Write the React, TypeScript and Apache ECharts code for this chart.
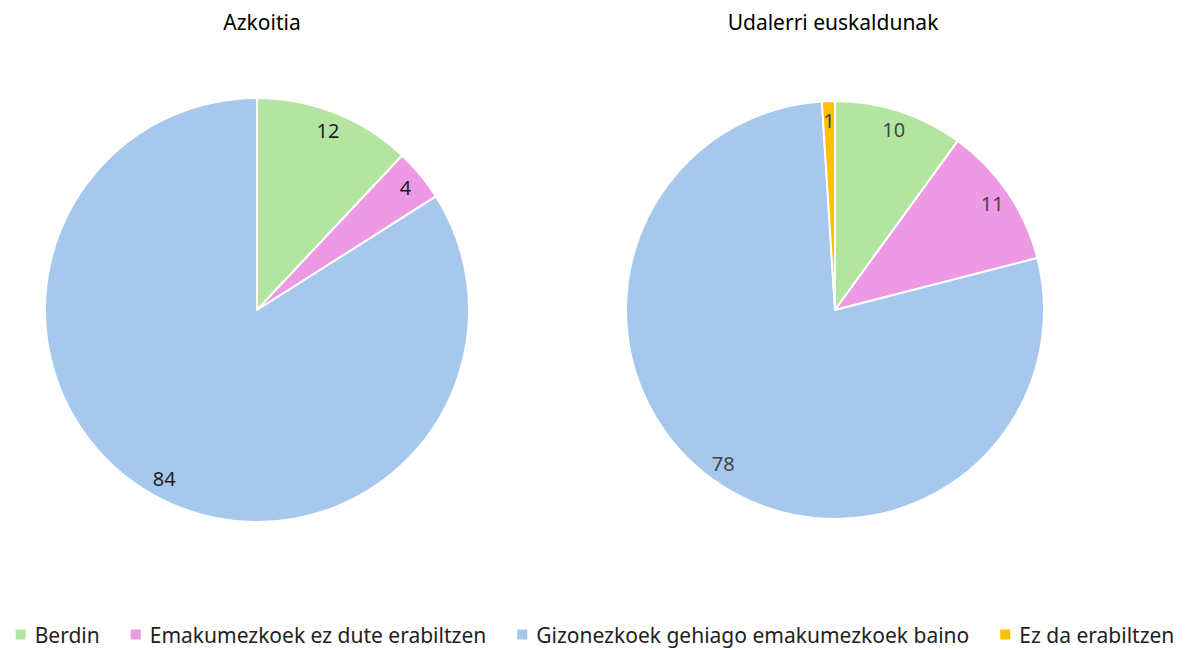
import React, { useEffect, useRef } from "react";
import * as echarts from "echarts";

const categories = ["Berdin", "Emakumezkoek ez dute erabiltzen", "Gizonezkoek gehiago emakumezkoek baino", "Ez da erabiltzen"];
const colors = ["#b3e5a1", "#ee99e3", "#a6c8ec", "#ffc000"];
const titles = ["Azkoitia", "Udalerri euskaldunak"];
const azkoitiaValues = [12, 4, 84, 0];
const udalerriValues = [10, 11, 78, 1];

const FONT = "'Noto Sans', 'Open Sans', sans-serif";

function buildData(values: number[]) {
  return categories
    .map((name, i) => ({ name, value: values[i], itemStyle: { color: colors[i] } }))
    .filter((d) => d.value > 0);
}

export default function App() {
  const ref = useRef<HTMLDivElement>(null);
  useEffect(() => {
    document.body.style.margin = "0";
    const chart = echarts.init(ref.current!, null, { renderer: "svg" });
    const pies = [
      { values: azkoitiaValues, center: [257, 310], r: 212, labelColor: "#1f1f1f" },
      { values: udalerriValues, center: [835, 310], r: 209, labelColor: "#454545" },
    ];
    const series: any[] = [];
    pies.forEach((p) => {
      series.push({
        type: "pie",
        center: p.center,
        radius: [0, p.r],
        startAngle: 90,
        clockwise: true,
        data: buildData(p.values),
        label: { show: false },
        labelLine: { show: false },
        itemStyle: { borderColor: "#ffffff", borderWidth: 2 },
        emphasis: { disabled: true },
      });
    });
    pies.forEach((p) => {
      series.push({
        type: "pie",
        center: p.center,
        radius: [p.r * 0.79, p.r],
        startAngle: 90,
        clockwise: true,
        silent: true,
        data: buildData(p.values).map((d) => ({ ...d, itemStyle: { color: "rgba(0,0,0,0)" } })),
        label: {
          show: true,
          position: "inside",
          formatter: "{c}",
          color: p.labelColor,
          fontSize: 20,
          fontFamily: FONT,
        },
        labelLine: { show: false },
        itemStyle: { borderWidth: 0 },
        emphasis: { disabled: true },
      });
    });
    chart.setOption({
      animation: false,
      backgroundColor: "#ffffff",
      title: [
        { text: titles[0], left: 257, top: 6, textAlign: "center", textStyle: { fontFamily: FONT, fontSize: 21, fontWeight: "normal", color: "#000" } },
        { text: titles[1], left: 828, top: 6, textAlign: "center", textStyle: { fontFamily: FONT, fontSize: 21, fontWeight: "normal", color: "#000" } },
      ],
      legend: {
        bottom: 0,
        left: "center",
        icon: "rect",
        itemWidth: 12,
        itemHeight: 12,
        itemGap: 29,
        data: categories.map((name, i) => ({ name, itemStyle: { color: colors[i] } })),
        textStyle: { fontFamily: FONT, fontSize: 21, color: "#222", padding: [0, 0, 0, 3] },
        selectedMode: false,
      },
      series,
    });
    return () => chart.dispose();
  }, []);
  return <div ref={ref} style={{ width: 1188, height: 650 }} />;
}
